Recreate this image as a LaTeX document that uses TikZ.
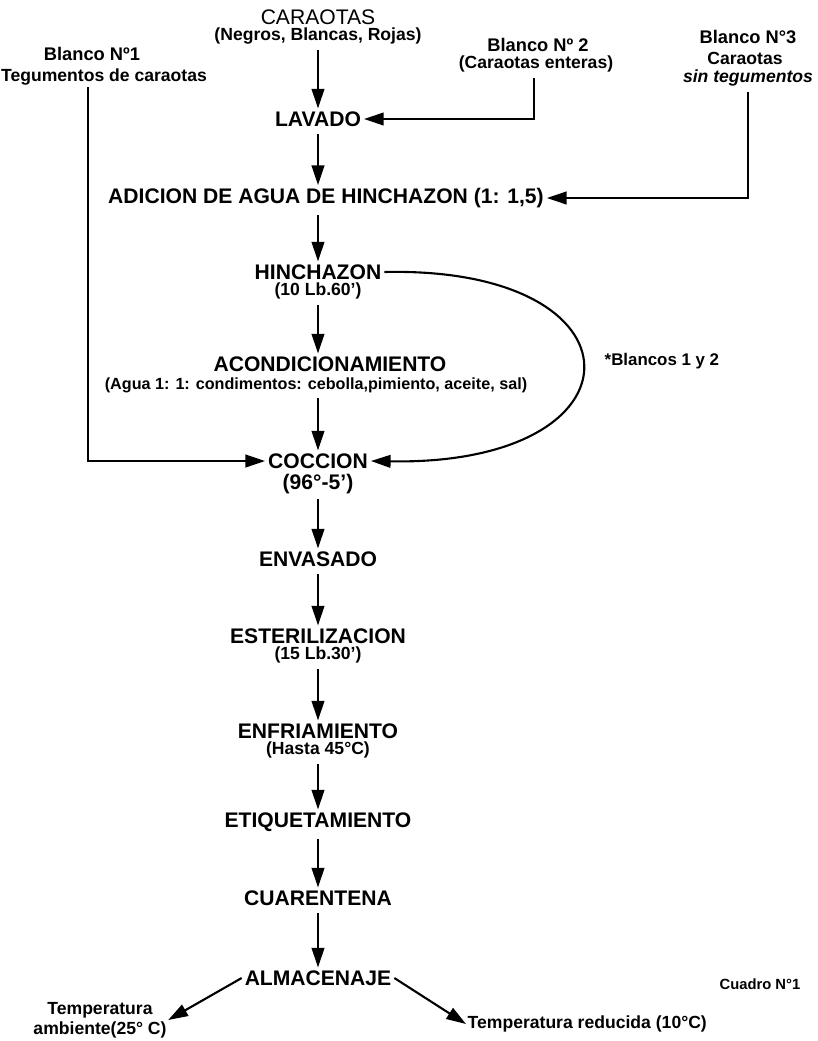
\documentclass[tikz,border=0pt]{standalone}
\usepackage{fontspec}
\setmainfont{Liberation Sans}
\usepackage{tikz}
\usetikzlibrary{arrows.meta, positioning}

\begin{document}
\begin{tikzpicture}[x=0.025cm, y=-0.025cm,
    stage/.style={font=\fontsize{15}{17}\selectfont\bfseries, inner sep=2pt},
    detail/.style={font=\fontsize{12.5}{14}\selectfont\bfseries, inner sep=1pt},
    blank/.style={font=\fontsize{13}{15}\selectfont\bfseries, inner sep=1pt},
    flow/.style={-{Triangle[length=14pt,width=9pt]}, line width=1.5pt, shorten <=3pt}]
    \useasboundingbox (0,0) rectangle (817,1041);
    % raw material and blanks
    \node[stage, font=\fontsize{15}{17}\selectfont] (caraotas) at (318,17) {CARAOTAS};
    \node[detail, below=-1pt of caraotas] (caraotassub) {(Negros, Blancas, Rojas)};
    \node[blank] (blanco1) at (92,54) {Blanco Nº1};
    \node[detail] (blanco1sub) at (104,77) {Tegumentos de caraotas};
    \node[blank] (blanco2) at (538,45) {Blanco Nº 2};
    \node[detail] (blanco2sub) at (536,64) {(Caraotas enteras)};
    \node[blank] (blanco3) at (748,37) {Blanco N°3};
    \node[detail] (blanco3c) at (745,58) {Caraotas};
    \node[detail] (blanco3sub) at (748,78) {\itshape sin tegumentos};
    \coordinate (b1top) at (88,87);
    % process steps
    \node[stage] (lavado) at (318,119) {LAVADO};
    \node[stage] (adicion) at (326,198) {ADICION DE AGUA DE HINCHAZON (1: 1,5)};
    \node[stage] (hinchazon) at (318,272) {HINCHAZON};
    \node[detail, below=-1pt of hinchazon] (hinchazonsub) {(10 Lb.60')};
    \node[stage] (acond) at (330,364) {ACONDICIONAMIENTO};
    \node[detail, font=\fontsize{11.5}{13}\selectfont\bfseries] (acondsub) at (316,385) {(Agua 1: 1: condimentos: cebolla,pimiento, aceite, sal)};
    \node[stage] (coccion) at (318,461) {COCCION};
    \node[stage, inner sep=0pt, below=2pt of coccion] (coccionsub) {(96°-5')};
    \node[stage] (envasado) at (318,559) {ENVASADO};
    \node[stage] (esteril) at (318,636) {ESTERILIZACION};
    \node[detail, below=-1pt of esteril] (esterilsub) {(15 Lb.30')};
    \node[stage] (enfri) at (318,731) {ENFRIAMIENTO};
    \node[detail, below=-1pt of enfri] (enfrisub) {(Hasta 45°C)};
    \node[stage] (etiq) at (318,822) {ETIQUETAMIENTO};
    \node[stage] (cuarentena) at (318,898) {CUARENTENA};
    \node[stage] (almacenaje) at (318,978) {ALMACENAJE};
    \node[detail, align=center] (ambiente) at (100,1020) {Temperatura\\ambiente(25° C)};
    \node[detail, anchor=west] (reducida) at (466,1024) {Temperatura reducida (10°C)};
    \node[detail, font=\fontsize{12}{14}\selectfont\bfseries, anchor=west] (blancos) at (603,361) {*Blancos 1 y 2};
    \node[detail, font=\fontsize{10.5}{12}\selectfont\bfseries] (cuadro) at (760,984) {Cuadro N°1};
    % main line
    \draw[flow] (caraotassub) -- (lavado);
    \draw[flow] (lavado) -- (lavado |- adicion.north);
    \draw[flow] (lavado |- adicion.south) -- (hinchazon);
    \draw[flow] (hinchazonsub) -- (hinchazonsub |- acond.north);
    \draw[flow] (coccion |- acondsub.south) -- (coccion);
    \draw[flow] (coccionsub) -- (envasado);
    \draw[flow] (envasado) -- (esteril);
    \draw[flow] (esterilsub) -- (enfri);
    \draw[flow] (enfrisub) -- (etiq);
    \draw[flow] (etiq) -- (cuarentena);
    \draw[flow] (cuarentena) -- (almacenaje);
    % blanks
    \draw[flow] (blanco2sub.south -| 534,0) |- (lavado.east);
    \draw[flow] (blanco3sub.south) |- (adicion.east);
    \draw[flow, shorten <=0pt] (b1top) |- (coccion.west);
    \draw[flow, shorten <=0pt] (hinchazon.east) .. controls (650,266) and (650,466) .. (coccion.east);
    % storage
    \draw[flow, shorten <=0pt] (almacenaje.west) -- (ambiente.east);
    \draw[flow, shorten <=0pt] (almacenaje.east) -- (reducida.west);
\end{tikzpicture}
\end{document}
